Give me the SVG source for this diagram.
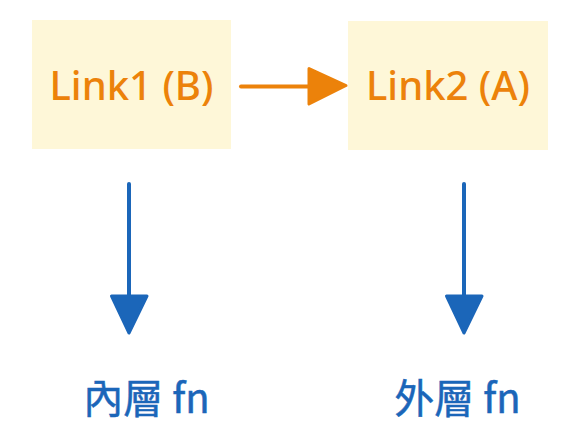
<svg xmlns="http://www.w3.org/2000/svg" width="574" height="444" viewBox="0 0 574 444">
<style>
.box{fill:#FEF7D8;}
.lk{font-family:"Noto Sans","Liberation Sans",sans-serif;font-size:40px;font-weight:500;fill:#EC820A;text-anchor:middle;}
.lb{font-family:"Noto Sans CJK TC","Noto Sans",sans-serif;font-size:40px;font-weight:400;fill:#1B66B9;text-anchor:middle;stroke:#1B66B9;stroke-width:0.5;}
.ol{stroke:#EC820A;stroke-width:4;stroke-linecap:round;fill:none;}
.bl{stroke:#1B66B9;stroke-width:4;stroke-linecap:round;fill:none;}
</style>
<rect width="574" height="444" fill="#ffffff"/>
<g id="link1"><rect class="box" x="32" y="20" width="199" height="129"/><text class="lk" x="131.5" y="100">Link1 (B)</text></g>
<g id="link2"><rect class="box" x="348" y="21" width="200" height="129"/><text class="lk" x="448" y="100">Link2 (A)</text></g>
<g id="inner"><text class="lb" x="146.5" y="413">內層 fn</text></g>
<g id="outer"><text class="lb" x="457.5" y="413">外層 fn</text></g>
<g id="connectors">
<path class="ol" d="M241 86.5 H312"/>
<path d="M309 68.5 L346 85.5 L309 104 Z" fill="#EC820A" stroke="#EC820A" stroke-width="3" stroke-linejoin="round"/>
<path class="bl" d="M129 184 V300"/>
<path d="M111.5 296 L147 296 L129 333 Z" fill="#1B66B9" stroke="#1B66B9" stroke-width="3" stroke-linejoin="round"/>
<path class="bl" d="M464 184 V300"/>
<path d="M446.5 296 L482 296 L464 333 Z" fill="#1B66B9" stroke="#1B66B9" stroke-width="3" stroke-linejoin="round"/>
</g>
</svg>
